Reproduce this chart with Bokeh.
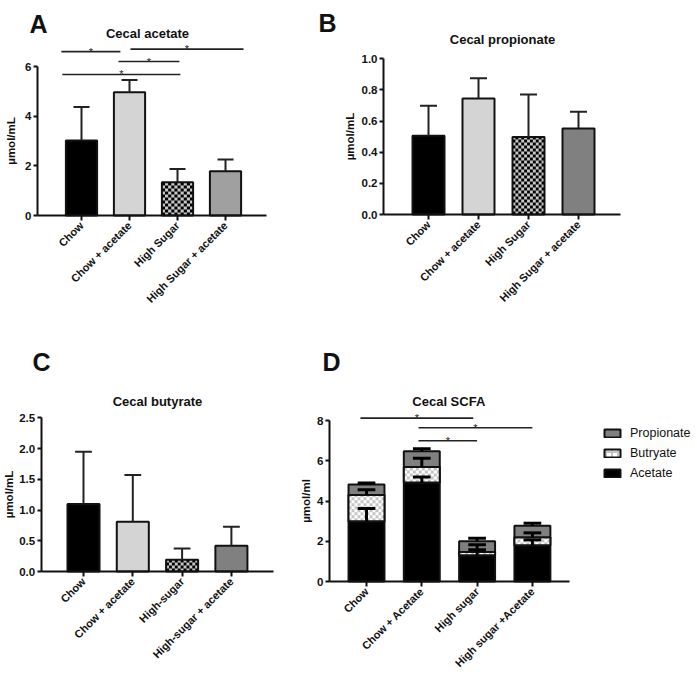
import numpy as np
from math import pi
from bokeh.plotting import figure
from bokeh.models import (Range1d, FixedTicker, Legend, LegendItem, Label)
from bokeh.layouts import row, column
from bokeh.embed import file_html
from bokeh.resources import INLINE
from bokeh.core.properties import value

FONT = "Liberation Sans"
FONT_V = value(FONT)
INK = "#111111"

# ---------------- data ----------------
groups_ab = ["Chow", "Chow + acetate", "High Sugar", "High Sugar + acetate"]
groups_c = ["Chow", "Chow + acetate", "High-sugar", "High-sugar + acetate"]
groups_d = ["Chow", "Chow + Acetate", "High sugar", "High sugar +Acetate"]

acetate_mean = [3.02, 4.96, 1.34, 1.78]
acetate_err = [1.35, 0.50, 0.53, 0.48]
propionate_mean = [0.505, 0.745, 0.498, 0.552]
propionate_err = [0.193, 0.130, 0.272, 0.108]
butyrate_mean = [1.10, 0.81, 0.19, 0.42]
butyrate_err = [0.85, 0.76, 0.185, 0.31]

scfa_acetate = [3.00, 4.93, 1.30, 1.80]
scfa_butyrate = [1.30, 0.77, 0.17, 0.40]
scfa_propionate = [0.53, 0.78, 0.53, 0.58]
scfa_acetate_err = [0.63, 0.27, 0.28, 0.27]
scfa_butyrate_err = [0.26, 0.43, 0.36, 0.22]
scfa_propionate_err = [0.07, 0.12, 0.15, 0.12]

sig_a_x0 = [-0.42, 1.02, 0.77, -0.40]
sig_a_x1 = [0.81, 3.375, 2.04, 2.06]
sig_a_y = [6.60, 6.70, 6.20, 5.68]
sig_d_x0 = [-0.11, 0.94, 0.94]
sig_d_x1 = [1.93, 3.00, 2.00]
sig_d_y = [8.13, 7.65, 7.00]


def base_fig(width, height, xr, yr, yaxis_x, xbounds, yticks, ybound, ylabel,
             xlabels, ylabel_fmt=None, ylab_standoff=3):
    p = figure(width=width, height=height, x_range=Range1d(*xr), y_range=Range1d(*yr),
               output_backend="svg", toolbar_location=None, title=None,
               min_border_left=0, min_border_right=0, min_border_top=0,
               min_border_bottom=0)
    p.grid.visible = False
    p.outline_line_color = None
    p.background_fill_color = "white"
    p.border_fill_color = "white"
    for ax in (p.xaxis[0], p.yaxis[0]):
        ax.axis_line_width = 2
        ax.axis_line_color = INK
        ax.major_tick_line_width = 2
        ax.major_tick_line_color = INK
        ax.major_tick_in = 0
        ax.major_tick_out = 4
        ax.minor_tick_line_color = None
        ax.major_label_text_font = FONT
        ax.major_label_text_font_style = "bold"
        ax.major_label_text_color = INK
    ya = p.yaxis[0]
    ya.fixed_location = yaxis_x
    ya.ticker = FixedTicker(ticks=yticks)
    ya.bounds = ybound
    ya.major_label_text_font_size = "11.5px"
    ya.major_label_standoff = 2
    ya.axis_label = ylabel
    ya.axis_label_text_font = FONT
    ya.axis_label_text_font_style = "bold"
    ya.axis_label_text_font_size = "11.5px"
    ya.axis_label_text_color = INK
    ya.axis_label_standoff = ylab_standoff
    if ylabel_fmt:
        ya.major_label_overrides = {t: (ylabel_fmt % t) for t in yticks}
    xa = p.xaxis[0]
    xa.fixed_location = 0
    xa.bounds = xbounds
    xa.ticker = FixedTicker(ticks=list(range(len(xlabels))))
    xa.major_label_overrides = {i: s for i, s in enumerate(xlabels)}
    xa.major_label_orientation = pi / 4
    xa.major_label_text_font_size = "11px"
    xa.major_label_standoff = 3
    xa.major_tick_out = 5
    return p


def add_text(p, x, y, text, size, align="left"):
    p.add_layout(Label(x=x, y=y, text=text, text_font=FONT, text_font_size=size,
                       text_font_style="bold", text_align=align,
                       text_baseline="alphabetic", text_color=INK))


def checker_quads(p, xc, y0, y1, w, px_x, px_y, color, cell=3.0):
    cx, cy = cell / px_x, cell / px_y
    n = max(1, int(round(w / cx)))
    cx = w / n
    m = int(np.ceil((y1 - y0) / cy - 1e-9))
    L, R, B, T = [], [], [], []
    for j in range(m):
        bb = y0 + j * cy
        tt = min(bb + cy, y1)
        for i in range(n):
            if (i + j) % 2 == 0:
                L.append(xc - w / 2 + i * cx)
                R.append(xc - w / 2 + (i + 1) * cx)
                B.append(bb)
                T.append(tt)
    return p.quad(left=L, right=R, bottom=B, top=T, fill_color=color, line_color=None)


def simple_bars(p, means, errs, colors, width, cap, px_x, px_y, checker_bg="#c8c8c8"):
    x = list(range(len(means)))
    fills = [c if c is not None else checker_bg for c in colors]
    p.vbar(x=x, top=means, width=width, bottom=0, fill_color=fills, line_color=None)
    for i in x:
        if colors[i] is None:
            checker_quads(p, i, 0, means[i], width, px_x, px_y, "#000000")
    p.vbar(x=x, top=means, width=width, bottom=0, fill_color=None, line_color=INK, line_width=2)
    tops = [m + e for m, e in zip(means, errs)]
    p.segment(x0=x, y0=means, x1=x, y1=tops, line_color="#222222", line_width=2)
    p.segment(x0=[i - cap for i in x], y0=tops, x1=[i + cap for i in x], y1=tops,
              line_color="#222222", line_width=2)


def sig_lines(p, x0, x1, y, width=1.6):
    p.segment(x0=x0, y0=y, x1=x1, y1=y, line_color="#222222", line_width=width)
    mids = [(a + b) / 2 for a, b in zip(x0, x1)]
    p.text(x=mids, y=y, text=["*"] * len(y), text_font=FONT_V, text_font_size="11px",
           text_align="center", text_baseline="alphabetic", text_color="#222222")


# ---------------- panel A ----------------
sxA, syA = 48.0, 24.83
pA = base_fig(300, 330, (-1.6875, 4.5625), (-4.6315, 8.659), -0.917, (-0.917, 3.854),
              [0, 2, 4, 6], (0, 6), "µmol/mL", groups_ab, ylab_standoff=5)
simple_bars(pA, acetate_mean, acetate_err, ["#000000", "#d4d4d4", None, "#a0a0a0"],
            0.65, 0.167, sxA, syA)
sig_lines(pA, sig_a_x0, sig_a_x1, sig_a_y)
add_text(pA, -1.083, 7.73, "A", "25px")
add_text(pA, 1.375, 7.35, "Cecal acetate", "13px", align="center")

# ---------------- panel B ----------------
sxB, syB = 50.0, 155.7
pB = base_fig(397, 330, (-2.56, 5.38), (-0.745, 1.3744), -0.9, (-0.9, 3.84),
              [0, 0.2, 0.4, 0.6, 0.8, 1.0], (0, 1.0), "µmol/mL", groups_ab, "%.1f")
simple_bars(pB, propionate_mean, propionate_err, ["#000000", "#d4d4d4", None, "#808080"],
            0.64, 0.17, sxB, syB)
add_text(pB, -2.2, 1.2267, "B", "25px")
add_text(pB, 1.48, 1.126, "Cecal propionate", "13px", align="center")

# ---------------- panel C ----------------
sxC, syC = 49.3, 61.44
pC = base_fig(300, 352, (-1.6836, 4.4016), (-1.8066, 3.9225), -0.858, (-0.858, 3.854),
              [0, 0.5, 1.0, 1.5, 2.0, 2.5], (0, 2.5), "µmol/mL", groups_c, "%.1f",
              ylab_standoff=2)
simple_bars(pC, butyrate_mean, butyrate_err, ["#000000", "#d4d4d4", None, "#808080"],
            0.65, 0.17, sxC, syC)
add_text(pC, -1.034, 3.402, "C", "25px")
add_text(pC, 1.50, 2.767, "Cecal butyrate", "13px", align="center")

# ---------------- panel D ----------------
sxD, syD = 55.3, 20.1
pD = base_fig(397, 352, (-1.1935, 5.9855), (-5.0249, 12.488), -0.669, (-0.669, 3.671),
              [0, 2, 4, 6, 8], (0, 8), "µmol/ml", groups_d, ylab_standoff=2)
xd = np.arange(4)
a = np.array(scfa_acetate)
b = np.array(scfa_butyrate)
c = np.array(scfa_propionate)
ab = a + b
abc = ab + c
r_ace = pD.vbar(x=xd, bottom=0, top=a, width=0.65, fill_color="#000000",
                line_color=INK, line_width=2)
# butyrate: hatched renderer (used for the legend swatch), then a checkerboard on top
r_but = pD.vbar(x=xd, bottom=a, top=ab, width=0.65, fill_color="#ffffff",
                line_color=INK, line_width=2, hatch_pattern="+", hatch_color="#c4c4c4",
                hatch_scale=6, hatch_weight=2)
pD.vbar(x=xd, bottom=a, top=ab, width=0.65, fill_color="#ffffff", line_color=None)
for i in range(4):
    checker_quads(pD, xd[i], a[i], ab[i], 0.65, sxD, syD, "#c4c4c4")
pD.vbar(x=xd, bottom=a, top=ab, width=0.65, fill_color=None, line_color=INK, line_width=2)
r_pro = pD.vbar(x=xd, bottom=ab, top=abc, width=0.65, fill_color="#808080",
                line_color=INK, line_width=2)
for base, err in ((a, scfa_acetate_err), (ab, scfa_butyrate_err), (abc, scfa_propionate_err)):
    top = base + np.array(err)
    pD.segment(x0=xd, y0=base, x1=xd, y1=top, line_color="#000000", line_width=3)
    pD.segment(x0=xd - 0.16, y0=top, x1=xd + 0.16, y1=top, line_color="#000000", line_width=3)
sig_lines(pD, sig_d_x0, sig_d_x1, sig_d_y)
add_text(pD, -0.796, 10.896, "D", "25px")
add_text(pD, 1.488, 8.97, "Cecal SCFA", "13px", align="center")

legend = Legend(items=[LegendItem(label="Propionate", renderers=[r_pro]),
                       LegendItem(label="Butryate", renderers=[r_but]),
                       LegendItem(label="Acetate", renderers=[r_ace])],
                location=(302, 202))
legend.padding = 0
legend.margin = 0
legend.border_line_color = None
legend.background_fill_alpha = 0
legend.glyph_width = 20
legend.glyph_height = 10
legend.label_standoff = 8
legend.spacing = 5
legend.label_height = 15
legend.label_text_font = FONT
legend.label_text_font_size = "12.5px"
legend.label_text_color = INK
pD.add_layout(legend)

layout = column(row(pA, column(pB)), row(pC, column(pD)))
open("out.html", "w").write(file_html(layout, INLINE))
